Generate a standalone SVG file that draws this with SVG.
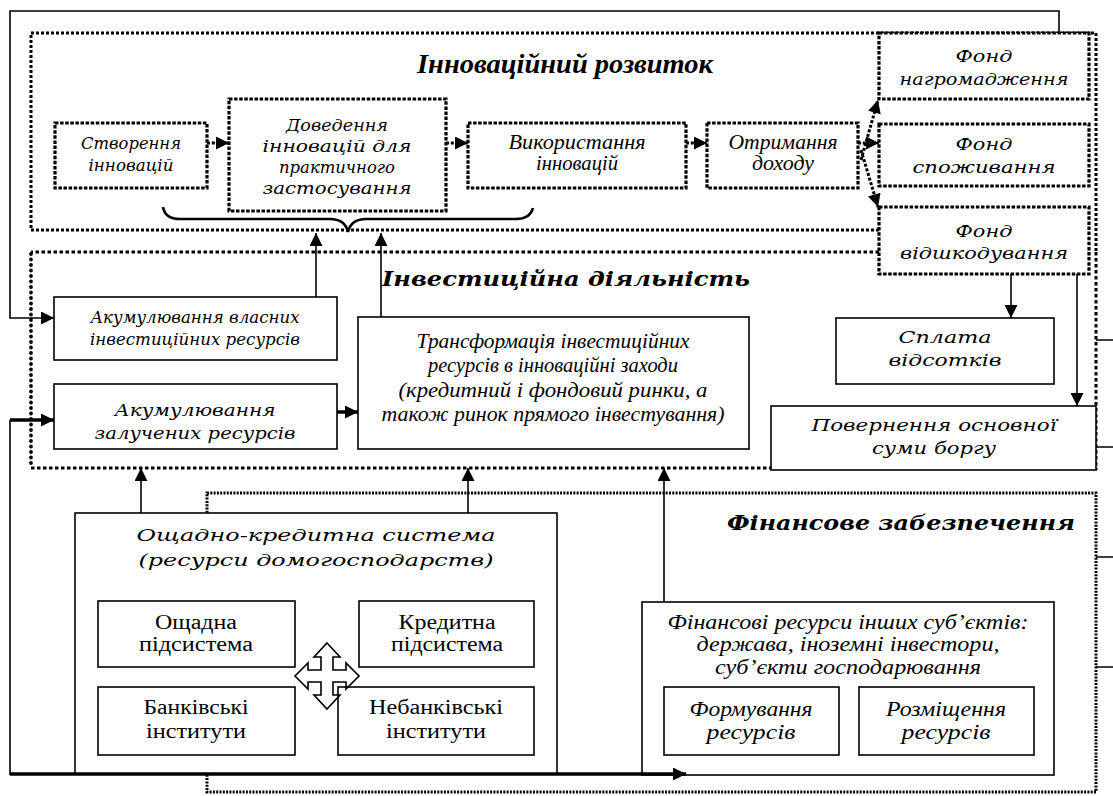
<svg xmlns="http://www.w3.org/2000/svg" width="1113" height="796" viewBox="0 0 1113 796">
<style>
.solid{fill:#fff;stroke:#000;stroke-width:1.6}
.dotbox{fill:#fff;stroke:#000;stroke-width:3.2;stroke-dasharray:3.5 1.6}
.secI{fill:none;stroke:#000;stroke-width:3;stroke-dasharray:3 2}
.secV{fill:none;stroke:#000;stroke-width:3;stroke-dasharray:3.5 2.5}
.secVl{fill:none;stroke:#000;stroke-width:3.8;stroke-dasharray:0 5.5;stroke-linecap:round}
.secF{fill:none;stroke:#000;stroke-width:3;stroke-dasharray:2 1.3}
.ln{fill:none;stroke:#000;stroke-width:1.6}
.thk{fill:none;stroke:#000;stroke-width:3.5}
.dl{fill:none;stroke:#000;stroke-width:3;stroke-dasharray:3 1.8}
.bk{font-family:"DejaVu Serif","Liberation Serif",serif;font-style:italic;font-size:17px;text-anchor:middle}
.tm{font-family:"Liberation Serif",serif;font-style:italic;font-size:20px;text-anchor:middle}
.tr{font-family:"Liberation Serif",serif;font-size:20px;text-anchor:middle}
.t1{font-family:"Liberation Serif",serif;font-style:italic;font-weight:bold;font-size:27px}
.t2{font-family:"DejaVu Serif","Liberation Serif",serif;font-style:italic;font-weight:bold;font-size:21px}
</style>
<defs>
<marker id="ah" viewBox="0 0 10 10" refX="10" refY="5" markerWidth="14" markerHeight="13" markerUnits="userSpaceOnUse" orient="auto">
<path d="M0,0 L10,5 L0,10z" fill="#000" stroke="none"/>
</marker>
</defs>

<!-- section frames -->
<g id="sec-financial">
<rect class="secF" x="207" y="493" width="889" height="299"/>
<text class="t2" x="1075" y="530" text-anchor="end" textLength="348" lengthAdjust="spacingAndGlyphs">Фінансове забезпечення</text>
</g>
<g id="sec-investment">
<path class="secV" d="M879,252 H31 M31,468 H775 M1096,252 V470"/>
<path class="secVl" d="M31,254 V468"/>
<text class="t2" x="382" y="286" textLength="368" lengthAdjust="spacingAndGlyphs">Інвестиційна діяльність</text>
</g>
<g id="sec-innovation">
<path class="secI" d="M879,230 H31 V33 H1096 V252"/>
<text class="t1" x="417" y="73" textLength="296" lengthAdjust="spacingAndGlyphs">Інноваційний розвиток</text>
</g>

<!-- innovation nodes -->
<g id="n-stvorennia">
<rect class="dotbox" x="55" y="123" width="152" height="65"/>
<text class="bk" x="131" y="149" textLength="100" lengthAdjust="spacingAndGlyphs">Створення</text>
<text class="bk" x="131" y="171" textLength="85" lengthAdjust="spacingAndGlyphs">інновацій</text>
</g>
<g id="n-dovedennia">
<rect class="dotbox" x="229" y="99" width="217" height="112"/>
<text class="bk" x="337" y="131" textLength="102" lengthAdjust="spacingAndGlyphs">Доведення</text>
<text class="bk" x="337" y="152" textLength="149" lengthAdjust="spacingAndGlyphs">інновацій для</text>
<text class="bk" x="337" y="173" textLength="116" lengthAdjust="spacingAndGlyphs">практичного</text>
<text class="bk" x="337" y="194" textLength="149" lengthAdjust="spacingAndGlyphs">застосування</text>
</g>
<g id="n-vykorystannia">
<rect class="dotbox" x="468" y="123" width="218" height="65"/>
<text class="tm" x="577" y="149" textLength="137" lengthAdjust="spacingAndGlyphs">Використання</text>
<text class="tm" x="577" y="170" textLength="82" lengthAdjust="spacingAndGlyphs">інновацій</text>
</g>
<g id="n-otrymannia">
<rect class="dotbox" x="707" y="123" width="151" height="65"/>
<text class="tm" x="783" y="149" textLength="109" lengthAdjust="spacingAndGlyphs">Отримання</text>
<text class="tm" x="783" y="170" textLength="62" lengthAdjust="spacingAndGlyphs">доходу</text>
</g>
<g id="n-fond-nagromadzhennia">
<rect class="dotbox" x="879" y="33" width="210" height="66"/>
<text class="bk" x="984" y="62" font-size="18" textLength="57" lengthAdjust="spacingAndGlyphs">Фонд</text>
<text class="bk" x="984" y="85" font-size="18" textLength="169" lengthAdjust="spacingAndGlyphs">нагромадження</text>
</g>
<g id="n-fond-spozhyvannia">
<rect class="dotbox" x="879" y="124" width="210" height="62"/>
<text class="bk" x="984" y="150" font-size="18" textLength="57" lengthAdjust="spacingAndGlyphs">Фонд</text>
<text class="bk" x="984" y="173" font-size="18" textLength="143" lengthAdjust="spacingAndGlyphs">споживання</text>
</g>
<g id="n-fond-vidshkoduvannia">
<rect class="dotbox" x="879" y="207" width="210" height="67"/>
<text class="bk" x="984" y="237" font-size="18" textLength="57" lengthAdjust="spacingAndGlyphs">Фонд</text>
<text class="bk" x="984" y="259" font-size="18" textLength="168" lengthAdjust="spacingAndGlyphs">відшкодування</text>
</g>
<g id="n-brace">
<path fill="none" stroke="#000" stroke-width="2.6" d="M163,207 Q165,219 180,219 H330 Q345,219 348,232 Q351,219 366,219 H516 Q530,219 533,208"/>
</g>

<!-- investment nodes -->
<g id="n-akum-vlasnykh">
<rect class="solid" x="54" y="297" width="283" height="63"/>
<text class="bk" x="195" y="323" textLength="209" lengthAdjust="spacingAndGlyphs">Акумулювання власних</text>
<text class="bk" x="195" y="345" textLength="210" lengthAdjust="spacingAndGlyphs">інвестиційних ресурсів</text>
</g>
<g id="n-akum-zaluchenykh">
<rect class="solid" x="54" y="384" width="283" height="65"/>
<text class="bk" x="195" y="416" textLength="161" lengthAdjust="spacingAndGlyphs">Акумулювання</text>
<text class="bk" x="195" y="439" textLength="201" lengthAdjust="spacingAndGlyphs">залучених ресурсів</text>
</g>
<g id="n-transformatsiia">
<rect class="solid" x="358" y="317" width="391" height="132"/>
<text class="tm" x="553" y="348" textLength="273" lengthAdjust="spacingAndGlyphs">Трансформація інвестиційних</text>
<text class="tm" x="553" y="372" textLength="250" lengthAdjust="spacingAndGlyphs">ресурсів в інноваційні заходи</text>
<text class="tm" x="553" y="397" textLength="309" lengthAdjust="spacingAndGlyphs">(кредитний і фондовий ринки, а</text>
<text class="tm" x="553" y="421" textLength="343" lengthAdjust="spacingAndGlyphs">також ринок прямого інвестування)</text>
</g>
<g id="n-splata">
<rect class="solid" x="836" y="318" width="218" height="66"/>
<text class="bk" x="945" y="343" font-size="18" textLength="93" lengthAdjust="spacingAndGlyphs">Сплата</text>
<text class="bk" x="945" y="366" font-size="18" textLength="113" lengthAdjust="spacingAndGlyphs">відсотків</text>
</g>
<g id="n-povernennia">
<rect class="solid" x="771" y="406" width="325" height="64"/>
<text class="bk" x="934" y="431" font-size="18" textLength="245" lengthAdjust="spacingAndGlyphs">Повернення основної</text>
<text class="bk" x="934" y="454" font-size="18" textLength="124" lengthAdjust="spacingAndGlyphs">суми боргу</text>
</g>

<!-- financial nodes -->
<g id="n-oshchadno-kredytna">
<rect class="solid" x="75" y="513" width="482" height="261"/>
<text class="bk" x="316" y="541" font-size="19" textLength="359" lengthAdjust="spacingAndGlyphs">Ощадно-кредитна система</text>
<text class="bk" x="316" y="566" font-size="19" textLength="355" lengthAdjust="spacingAndGlyphs">(ресурси домогосподарств)</text>
</g>
<g id="n-oshchadna">
<rect class="solid" x="98" y="601" width="197" height="66"/>
<text class="tr" x="196" y="629" textLength="82" lengthAdjust="spacingAndGlyphs">Ощадна</text>
<text class="tr" x="196" y="651" textLength="114" lengthAdjust="spacingAndGlyphs">підсистема</text>
</g>
<g id="n-kredytna">
<rect class="solid" x="359" y="601" width="175" height="66"/>
<text class="tr" x="447" y="629" textLength="97" lengthAdjust="spacingAndGlyphs">Кредитна</text>
<text class="tr" x="447" y="651" textLength="112" lengthAdjust="spacingAndGlyphs">підсистема</text>
</g>
<g id="n-bankivski">
<rect class="solid" x="98" y="687" width="197" height="68"/>
<text class="tr" x="196" y="714" textLength="105" lengthAdjust="spacingAndGlyphs">Банківські</text>
<text class="tr" x="196" y="738" textLength="100" lengthAdjust="spacingAndGlyphs">інститути</text>
</g>
<g id="n-cross-arrow">
<path fill="#fff" stroke="#000" stroke-width="1.6" stroke-linejoin="miter" d="M327,643 L340,657 L333,657 L333,670 L346,670 L346,663 L359,676 L346,689 L346,682 L333,682 L333,695 L340,695 L327,709 L314,695 L321,695 L321,682 L308,682 L308,689 L295,676 L308,663 L308,670 L321,670 L321,657 L314,657 Z"/>
</g>
<g id="n-nebankivski">
<rect fill="none" stroke="#000" stroke-width="1.6" x="338" y="687" width="196" height="68"/>
<text class="tr" x="436" y="714" textLength="134" lengthAdjust="spacingAndGlyphs">Небанківські</text>
<text class="tr" x="436" y="738" textLength="100" lengthAdjust="spacingAndGlyphs">інститути</text>
</g>
<g id="n-finansovi-resursy">
<rect class="solid" x="642" y="602" width="412" height="173"/>
<text class="tm" x="848" y="629" textLength="361" lengthAdjust="spacingAndGlyphs">Фінансові ресурси інших суб’єктів:</text>
<text class="tm" x="848" y="651" textLength="303" lengthAdjust="spacingAndGlyphs">держава, іноземні інвестори,</text>
<text class="tm" x="848" y="674" textLength="266" lengthAdjust="spacingAndGlyphs">суб’єкти господарювання</text>
</g>
<g id="n-formuvannia">
<rect class="solid" x="664" y="687" width="175" height="68"/>
<text class="tm" x="751" y="716" textLength="123" lengthAdjust="spacingAndGlyphs">Формування</text>
<text class="tm" x="751" y="739" textLength="89" lengthAdjust="spacingAndGlyphs">ресурсів</text>
</g>
<g id="n-rozmishchennia">
<rect class="solid" x="859" y="687" width="175" height="68"/>
<text class="tm" x="946" y="716" textLength="120" lengthAdjust="spacingAndGlyphs">Розміщення</text>
<text class="tm" x="946" y="739" textLength="89" lengthAdjust="spacingAndGlyphs">ресурсів</text>
</g>

<!-- connectors -->
<g id="connectors">
<path class="ln" d="M1059,33 V11 H10 V318 H54" marker-end="url(#ah)"/>
<path class="ln" d="M10,775 V420"/>
<path class="thk" d="M10,420 H54" marker-end="url(#ah)"/>
<path class="thk" d="M10,774 H686" marker-end="url(#ah)"/>
<path class="dl" d="M207,143 H229" marker-end="url(#ah)"/>
<path class="dl" d="M446,143 H468" marker-end="url(#ah)"/>
<path class="dl" d="M686,143 H707" marker-end="url(#ah)"/>
<path class="dl" d="M861,160 L878,100" marker-end="url(#ah)"/>
<path class="dl" d="M858,143 H879" marker-end="url(#ah)"/>
<path class="dl" d="M861,150 L878,207" marker-end="url(#ah)"/>
<path class="ln" stroke-width="2.2" d="M316,297 V233" marker-end="url(#ah)"/>
<path class="ln" stroke-width="2.2" d="M381,317 V233" marker-end="url(#ah)"/>
<path class="thk" d="M337,412 H358" marker-end="url(#ah)"/>
<path class="ln" stroke-width="2.2" d="M1011,274 V318" marker-end="url(#ah)"/>
<path class="ln" d="M1077,274 V406" marker-end="url(#ah)"/>
<path class="ln" stroke-width="2.2" d="M141,513 V468" marker-end="url(#ah)"/>
<path class="ln" stroke-width="2.2" d="M468,513 V468" marker-end="url(#ah)"/>
<path class="ln" stroke-width="2.2" d="M664,602 V468" marker-end="url(#ah)"/>
<path class="ln" d="M1096,340 H1113 M1096,447 H1113"/>
<path class="ln" stroke-width="2.4" d="M1096,557 H1113 M1096,667 H1113"/>
</g>
</svg>
